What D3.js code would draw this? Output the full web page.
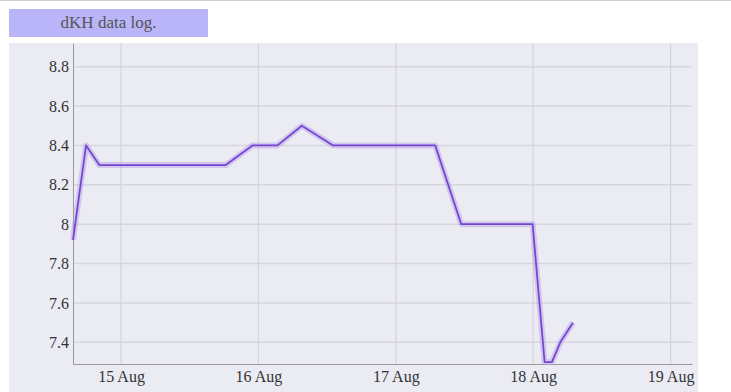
<!DOCTYPE html>
<html>
<head>
<meta charset="utf-8">
<script src="https://cdn.jsdelivr.net/npm/d3@7"></script>
<style>
  body { margin: 0; background: #fff; font-family: "Liberation Serif", "Times New Roman", serif; }
  #top { height: 1px; background: #cfcfcf; }
  #title {
    position: absolute; left: 9px; top: 9px; width: 199px; height: 28px;
    background: #b9b5f8; color: #555; font-size: 17px; line-height: 28px; text-align: center;
  }
  #chart { position: absolute; left: 0; top: 0; }
</style>
</head>
<body>
<div id="top"></div>
<svg id="chart" width="731" height="392"></svg>
<div id="title">dKH data log.</div>
<script>
// readings (time, dKH)
const times = [
  "2023-08-14T15:36", "2023-08-14T17:53", "2023-08-14T20:12", "2023-08-15T18:17",
  "2023-08-15T22:57", "2023-08-16T03:19", "2023-08-16T07:35", "2023-08-16T13:03",
  "2023-08-17T06:53", "2023-08-17T11:26", "2023-08-17T23:54", "2023-08-18T02:00",
  "2023-08-18T03:17", "2023-08-18T04:44", "2023-08-18T06:57"
];
const values = [7.92, 8.4, 8.3, 8.3, 8.4, 8.4, 8.5, 8.4, 8.4, 8.0, 8.0, 7.3, 7.3, 7.4, 7.5];
const yTicks = [7.4, 7.6, 7.8, 8, 8.2, 8.4, 8.6, 8.8];
const xTicks = ["2023-08-15", "2023-08-16", "2023-08-17", "2023-08-18", "2023-08-19"];

const parse = d3.timeParse("%Y-%m-%dT%H:%M");
const parseDay = d3.timeParse("%Y-%m-%d");
const data = times.map((t, i) => ({ date: parse(t), value: values[i] }));

const margin = { top: 43, right: 39, bottom: 28, left: 73 };
const W = 731, H = 392;
const svg = d3.select("#chart");

// panel background
svg.append("rect")
  .attr("x", 9).attr("y", 43)
  .attr("width", 689).attr("height", H - 43)
  .attr("fill", "#ebebf3");

const x = d3.scaleTime()
  .domain([parse("2023-08-14T15:36"), parse("2023-08-19T03:45")])
  .range([margin.left, W - margin.right]);

const y = d3.scaleLinear()
  .domain([7.29, 8.92])
  .range([H - margin.bottom, margin.top]);

// grid
svg.append("g")
  .selectAll("line")
  .data(yTicks)
  .join("line")
  .attr("x1", margin.left).attr("x2", W - margin.right)
  .attr("y1", d => y(d)).attr("y2", d => y(d))
  .attr("stroke", "#d6d6de").attr("stroke-width", 1.5);

svg.append("g")
  .selectAll("line")
  .data(xTicks.map(parseDay))
  .join("line")
  .attr("x1", d => x(d)).attr("x2", d => x(d))
  .attr("y1", margin.top).attr("y2", H - margin.bottom)
  .attr("stroke", "#d3d3da").attr("stroke-width", 1.2);

// axes
const yAxis = svg.append("g")
  .attr("transform", `translate(${margin.left},0)`)
  .call(d3.axisLeft(y).tickValues(yTicks).tickSize(0).tickPadding(4).tickFormat(d3.format("~g")));
yAxis.select(".domain").attr("stroke", "#9a9a9a");
yAxis.selectAll("text").attr("font-family", "Liberation Serif, serif").attr("font-size", 16).attr("fill", "#333");

const xAxis = svg.append("g")
  .attr("transform", `translate(0,${H - margin.bottom})`)
  .call(d3.axisBottom(x).tickValues(xTicks.map(parseDay)).tickSize(0).tickPadding(7)
    .tickFormat(d3.timeFormat("%-d %b")));
xAxis.select(".domain").attr("stroke", "#9a9a9a");
xAxis.selectAll("text").attr("font-family", "Liberation Serif, serif").attr("font-size", 16).attr("fill", "#333");

// line with glow
const line = d3.line().x(d => x(d.date)).y(d => y(d.value));
svg.append("path").datum(data)
  .attr("d", line).attr("fill", "none")
  .attr("stroke", "#b59be8").attr("stroke-opacity", 0.45)
  .attr("stroke-width", 6).attr("stroke-linejoin", "round");
svg.append("path").datum(data)
  .attr("d", line).attr("fill", "none")
  .attr("stroke", "#7447d2").attr("stroke-width", 1.8)
  .attr("stroke-linejoin", "round");
</script>
</body>
</html>
